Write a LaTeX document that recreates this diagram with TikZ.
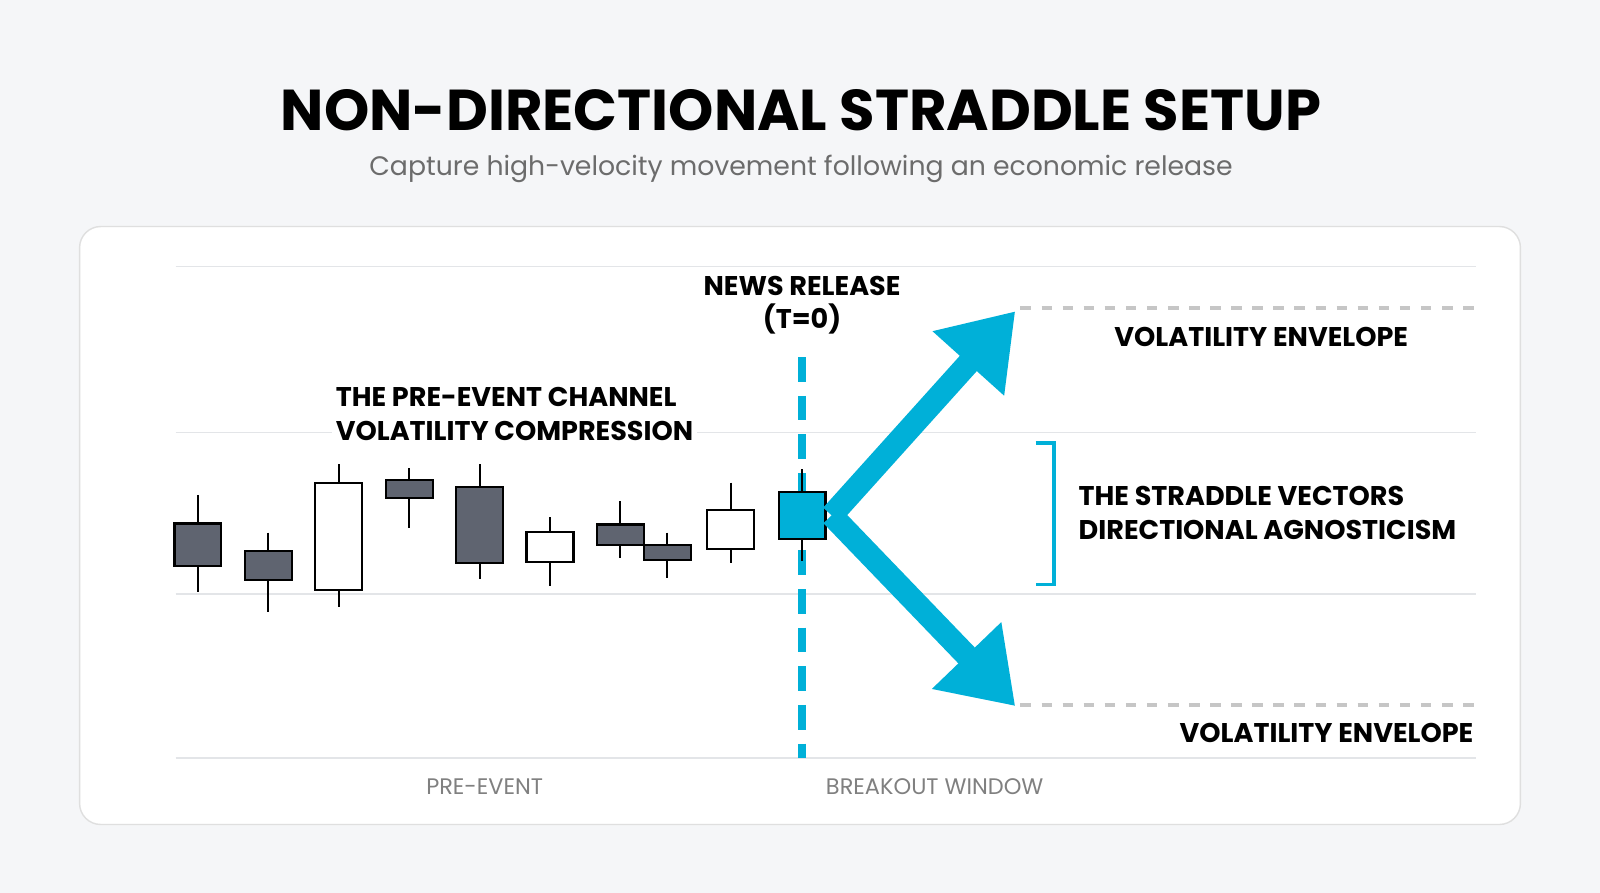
\documentclass[tikz,border=0pt]{standalone}
\usepackage{fontspec}
\setmainfont{Poppins}
\usetikzlibrary{arrows.meta}
\definecolor{bgcol}{HTML}{F5F6F8}
\definecolor{cyanv}{HTML}{00B0D8}
\definecolor{candle}{HTML}{5F6470}
\definecolor{gridc}{HTML}{E3E5E8}
\tikzset{
  lbl/.style = {font=\bfseries\fontsize{7.7}{9.6}\selectfont, align=left, inner sep=1pt},
  axislbl/.style = {font=\fontsize{6.4}{8}\selectfont, text=gray},
  gridline/.style = {draw=gridc, line width=0.4pt},
  straddle/.style = {draw=cyanv, line width=6.5pt, -{Triangle[length=20pt,width=26pt]}},
}
\newcommand{\candle}[6]{% x, wick top, wick bottom, body top, body bottom, fill
  \draw[line width=0.6pt] (#1,#2) -- (#1,#3);
  \draw[line width=0.6pt, fill=#6] (#1-23,#4) rectangle (#1+23,#5);
}
\begin{document}
\begin{tikzpicture}[x=0.010204cm, y=-0.010204cm]
  \fill[bgcol] (0,0) rectangle (1568,875);
  \useasboundingbox (0,0) rectangle (1568,875);
  \node[font=\bfseries\fontsize{16.4}{19}\selectfont](title) at (785,108) {NON-DIRECTIONAL STRADDLE SETUP};
  \node[font=\fontsize{7.6}{9}\selectfont, text=gray!85!black](subtitle) at (785,166) {Capture high-velocity movement following an economic release};
  \draw[gray!25, fill=white, rounded corners=6pt] (78,222) rectangle (1490,808);
  % grid
  \foreach \y in {261,424,582,743}
    \draw[gridline] (172,\y) -- (1446,\y);
  \draw[gray!45, dashed, line width=1pt] (1000,302) -- (1446,302);
  \draw[gray!45, dashed, line width=1pt] (1000,691) -- (1446,691);
  % candles
  \candle{194}{485}{580}{513}{555}{candle}
  \candle{263}{522}{600}{540}{568}{candle}
  \candle{332}{455}{595}{473}{578}{white}
  \candle{401}{459}{517}{470}{488}{candle}
  \candle{470}{455}{567}{477}{552}{candle}
  \candle{539}{507}{574}{521}{551}{white}
  \candle{608}{491}{547}{514}{534}{candle}
  \candle{654}{522}{566}{534}{549}{candle}
  \candle{716}{473}{552}{500}{538}{white}
  % news release line
  \coordinate (ntop) at (786,350);
  \coordinate (nbot) at (786,743);
  \draw[cyanv, line width=2.5pt, dash pattern=on 7pt off 4pt] (ntop) -- (nbot);
  \candle{786}{460}{550}{482}{528}{cyanv}
  % straddle vectors
  \coordinate (apex) at (815,505);
  \coordinate (uptip) at (995,305);
  \coordinate (dntip) at (995,692);
  \draw[straddle] (apex) -- (uptip);
  \draw[straddle] (apex) -- (dntip);
  % bracket
  \draw[cyanv, line width=1pt] (1015,434) -- (1033,434) -- (1033,573) -- (1015,573);
  % labels
  \node[lbl, align=center](news) at (786,299) {NEWS RELEASE\\(T=0)};
  \node[lbl, anchor=west, fill=white](channel) at (325,406) {THE PRE-EVENT CHANNEL\\VOLATILITY COMPRESSION};
  \node[lbl, anchor=west](vectors) at (1053,503) {THE STRADDLE VECTORS\\DIRECTIONAL AGNOSTICISM};
  \node[lbl, anchor=west](envup) at (1088,330) {VOLATILITY ENVELOPE};
  \node[lbl, anchor=east](envdn) at (1448,718) {VOLATILITY ENVELOPE};
  \node[axislbl](pre) at (475,771) {PRE-EVENT};
  \node[axislbl](breakout) at (916,771) {BREAKOUT WINDOW};
\end{tikzpicture}
\end{document}
